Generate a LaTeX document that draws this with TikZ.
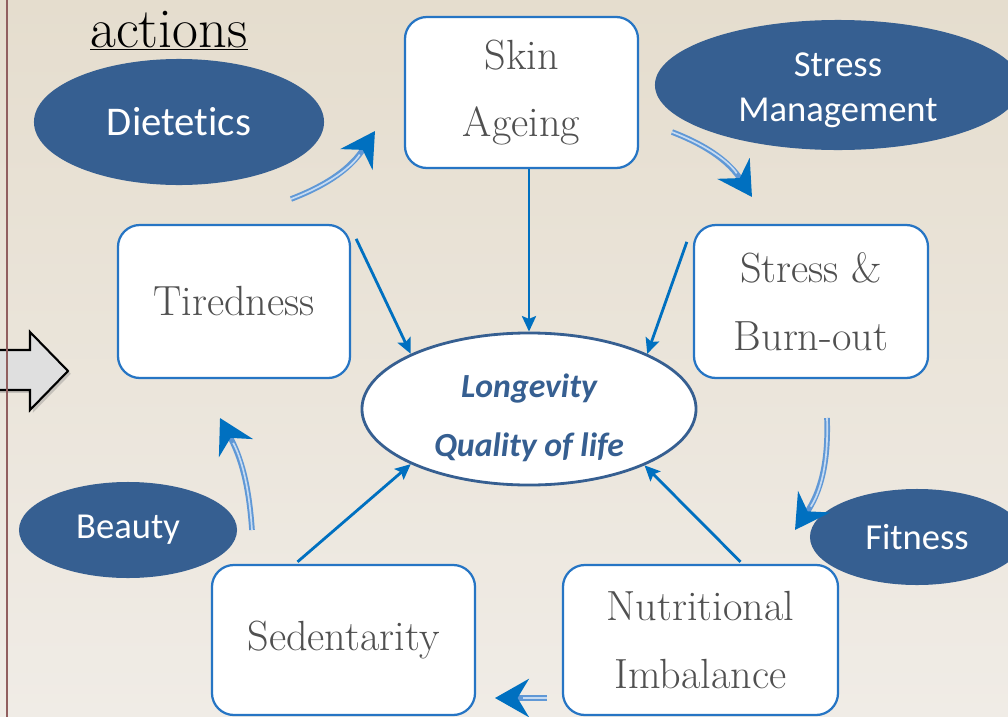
\documentclass[tikz,border=0pt]{standalone}
\usepackage{fontspec}
\newfontfamily\calib[Ligatures={NoCommon,NoDiscretionary}]{Carlito}
\usetikzlibrary{shapes.geometric,arrows.meta,shadows,calc}

\definecolor{bgtop}{RGB}{229,221,206}
\definecolor{bgbottom}{RGB}{240,236,230}
\definecolor{leverblue}{RGB}{54,95,145}
\definecolor{linkblue}{RGB}{0,112,192}
\definecolor{boxblue}{RGB}{38,117,196}
\definecolor{loopblue}{RGB}{96,152,214}
\definecolor{textgray}{RGB}{80,80,80}
\definecolor{rulebrown}{RGB}{145,95,95}

\tikzset{
	factor/.style={draw=boxblue, line width=1.6pt, fill=white, rounded corners=0.55cm, align=center, text=textgray, inner sep=0pt, font=\fontsize{30}{48}\selectfont},
	lever/.style={ellipse, fill=leverblue, text=white, align=center, inner sep=0pt, font=\calib\fontsize{26}{32}\selectfont},
	link/.style={linkblue, line width=2pt, -{Stealth[length=11pt, width=10pt, inset=2pt]}},
	loopflow/.style={loopblue, line width=4pt, -{Stealth[length=24pt, width=27pt, inset=8pt, color=linkblue]}},
	loopcore/.style={white!65!loopblue, line width=1.2pt, shorten >=20pt}
}

\begin{document}
\begin{tikzpicture}[x=0.025cm, y=0.025cm]
	
		% Frame and background
		\useasboundingbox (0,0) rectangle (1008,-717);
		\clip (0,0) rectangle (1008,-717);
		\shade [top color=bgtop, bottom color=bgbottom] (0,0) rectangle (1008,-717);
		
		% Block arrow on the left edge
		\draw [black, line width=1.5pt, fill=gray!25, drop shadow={shadow xshift=2pt, shadow yshift=-2pt, opacity=0.35}] (-10,-350) -- (30,-350) -- (30,-332) -- (68,-371) -- (30,-410) -- (30,-390) -- (-10,-390) -- cycle;
		\draw [rulebrown, line width=2pt] (7,0) -- (7,-717);
		
		% Title
		\node [anchor=base, font=\fontsize{40}{44}\selectfont] (title) at (169,-47) {\underline{actions}};
		
		% Centre
		\node [ellipse, draw=leverblue, line width=2pt, fill=white, inner sep=0pt, minimum width=8.35cm, minimum height=3.8cm] (core) at (529,-409) {};
		\node [align=center, text=leverblue, font=\calib\bfseries\itshape\fontsize{24}{42}\selectfont] (corelabel) at ($(core.center)+(0,-9)$) {Longevity\\Quality of life};
		
		% Factors
		\node [factor, minimum width=5.825cm, minimum height=3.775cm] (skin) at (521.5,-92.5) {Skin\\Ageing};
		\node [factor, minimum width=5.8cm, minimum height=3.825cm] (tired) at (234,-301.5) {Tiredness};
		\node [factor, minimum width=5.85cm, minimum height=3.825cm] (stress) at (811,-301.5) {Stress \&\\Burn-out};
		\node [factor, minimum width=6.575cm, minimum height=3.75cm] (sedent) at (343.5,-640) {Sedentarity};
		\node [factor, minimum width=6.875cm, minimum height=3.75cm] (nutri) at (700.5,-640) {Nutritional\\Imbalance};
		
		% Levers
		\node [lever, minimum width=7.25cm, minimum height=3.15cm, font=\calib\fontsize{29}{34}\selectfont] (diet) at (179,-122) {Dietetics};
		\node [lever, minimum width=9.15cm, minimum height=3.25cm] (stressmgmt) at (838,-85) {};
		\node [align=center, text=white, font=\calib\fontsize{26}{32}\selectfont] (stressmgmtlabel) at ($(stressmgmt.center)+(0,-5)$) {Stress\\Management};
		\node [lever, minimum width=5.35cm, minimum height=2.4cm] (fit) at (917,-537) {Fitness};
		\node [lever, minimum width=5.45cm, minimum height=2.4cm] (beauty) at (128,-530) {Beauty};
		
		% Links to the centre
		\draw [link] (skin.south -| core.north) -- (core.north);
		\draw [link] ($(tired.north east)+(5,-15)$) -- (core.155);
		\draw [link] ($(stress.north west)+(-6,-18)$) -- (core.25);
		\draw [link] ($(sedent.north)+(-46,2)$) -- (core.205);
		\draw [link] ($(nutri.north)+(40,2)$) -- (core.334);
		
		% Loop between the factors
		\coordinate (tiredout) at (291,-199);
		\coordinate (skinin) at (375,-131);
		\coordinate (skinout) at (672,-132);
		\coordinate (stressin) at (752,-197);
		\coordinate (stressout) at (827,-418);
		\coordinate (nutriin) at (795,-530);
		\coordinate (nutriout) at (547,-698);
		\coordinate (sedentin) at (495,-698);
		\coordinate (sedentout) at (252,-530);
		\coordinate (tiredin) at (220,-418);
		
		\draw [loopflow] (tiredout) to[bend right=18] (skinin);
		\draw [loopcore] (tiredout) to[bend right=18] (skinin);
		\draw [loopflow] (skinout) to[bend left=18] (stressin);
		\draw [loopcore] (skinout) to[bend left=18] (stressin);
		\draw [loopflow] (stressout) to[bend left=18] (nutriin);
		\draw [loopcore] (stressout) to[bend left=18] (nutriin);
		\draw [loopflow] (nutriout) -- (sedentin);
		\draw [loopcore] (nutriout) -- (sedentin);
		\draw [loopflow] (sedentout) to[bend right=12] (tiredin);
		\draw [loopcore] (sedentout) to[bend right=12] (tiredin);
	\end{tikzpicture}
\end{document}
